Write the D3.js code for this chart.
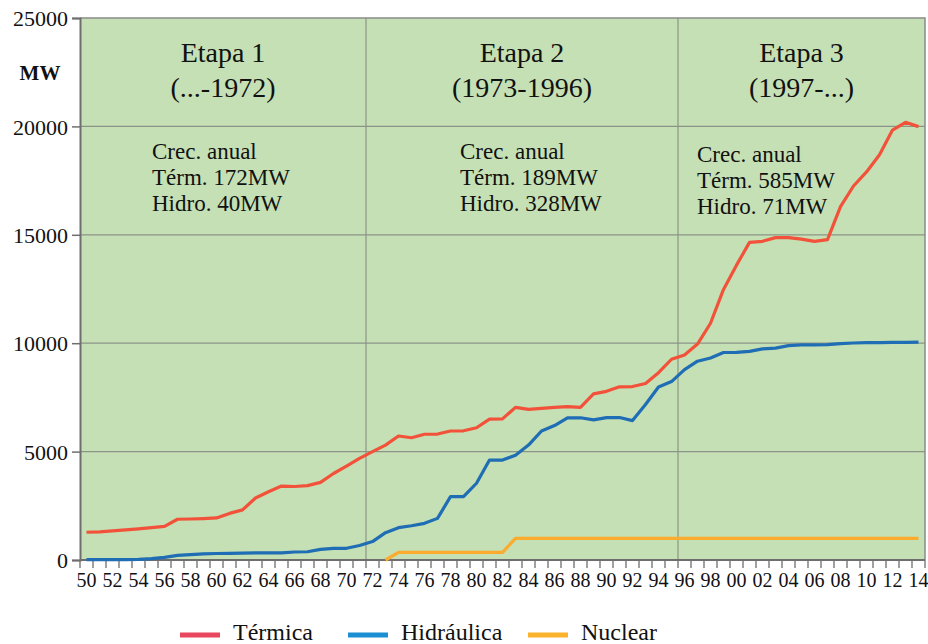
<!DOCTYPE html>
<html><head><meta charset="utf-8">
<script src="https://cdn.jsdelivr.net/npm/d3@7"></script>
</head>
<body><svg id="c" width="928" height="644"></svg>
<script>
document.body.style.margin = "0";
document.getElementById("c").style.display = "block";
const years = d3.range(1950, 2015);
const termica = [1280,1300,1340,1390,1440,1490,1550,1880,1890,1910,1940,2150,2310,2860,3150,3410,3390,3430,3580,3990,4330,4690,5000,5300,5720,5640,5800,5810,5950,5960,6100,6500,6510,7040,6950,6990,7040,7070,7040,7660,7780,7990,8000,8140,8640,9260,9460,9960,10920,12480,13600,14650,14700,14870,14870,14800,14700,14780,16300,17250,17900,18690,19830,20190,19990];
const hidraulica = [20,20,20,20,30,60,120,210,250,280,300,310,320,330,330,330,370,380,490,540,540,670,850,1260,1490,1580,1690,1920,2920,2920,3540,4610,4610,4830,5300,5950,6200,6560,6560,6460,6570,6570,6430,7170,7980,8230,8780,9170,9320,9570,9580,9620,9740,9770,9890,9920,9920,9930,9980,10010,10030,10030,10040,10040,10050];
const nuclear = [null,null,null,null,null,null,null,null,null,null,null,null,null,null,null,null,null,null,null,null,null,null,null,0,350,350,350,350,350,350,350,350,350,1000,1000,1000,1000,1000,1000,1000,1000,1000,1000,1000,1000,1000,1000,1000,1000,1000,1000,1000,1000,1000,1000,1000,1000,1000,1000,1000,1000,1000,1000,1000,1000];
const yTicks = [0,5000,10000,15000,20000,25000];
const stageBounds = [1971.5, 1995.5];
const stageTitles = [["Etapa 1","(...-1972)"],["Etapa 2","(1973-1996)"],["Etapa 3","(1997-...)"]];
const stageNotes = [["Crec. anual","Térm. 172MW","Hidro. 40MW"],["Crec. anual","Térm. 189MW","Hidro. 328MW"],["Crec. anual","Térm. 585MW","Hidro. 71MW"]];
const seriesNames = ["Térmica","Hidráulica","Nuclear"];

const FONT = '"Liberation Serif"';
const svg = d3.select("#c");
const L=80, R=925, T=18, B=560;
const x = d3.scaleLinear().domain([1949.5, 2014.5]).range([L, R]);
const y = d3.scaleLinear().domain([0, 25000]).range([B, T]);

svg.append("rect").attr("x",L).attr("y",T).attr("width",R-L).attr("height",B-T).attr("fill","#c5e0b4");

svg.append("g").selectAll("line").data(yTicks.filter(d=>d>0&&d<25000)).join("line")
  .attr("x1",L).attr("x2",R).attr("y1",d=>y(d)).attr("y2",d=>y(d))
  .attr("stroke","#8c9487").attr("stroke-width",1.2);
svg.append("g").selectAll("line").data(stageBounds).join("line")
  .attr("x1",d=>x(d)).attr("x2",d=>x(d)).attr("y1",T).attr("y2",B)
  .attr("stroke","#8c9487").attr("stroke-width",1.2);
svg.append("path").attr("d",`M${L},${T}H${R}V${B}`).attr("fill","none").attr("stroke","#8a8a8a").attr("stroke-width",1.5);

const yAxis = d3.axisLeft(y).tickValues(yTicks).tickSize(8).tickPadding(4).tickFormat(d3.format("d"));
const gy = svg.append("g").attr("transform",`translate(${L},0)`).call(yAxis);
gy.attr("font-family", null).style("font-family", FONT);
gy.select(".domain").attr("stroke","#6e6e6e").attr("stroke-width",2);
gy.selectAll(".tick line").attr("stroke","#6e6e6e").attr("stroke-width",1.5);
gy.selectAll("text").attr("font-size",22).attr("fill","#111").attr("dy","0.35em").style("font-family", FONT);

const bounds = d3.range(1949.5, 2015.5, 1);
const gx = svg.append("g");
gx.append("line").attr("x1",L).attr("x2",R).attr("y1",B).attr("y2",B).attr("stroke","#6e6e6e").attr("stroke-width",2);
gx.selectAll(".tk").data(bounds).join("line").attr("class","tk")
  .attr("x1",d=>x(d)).attr("x2",d=>x(d)).attr("y1",B).attr("y2",B+8)
  .attr("stroke","#6e6e6e").attr("stroke-width",1.3);
gx.selectAll("text").data(years.filter((d,i)=>i%2===0)).join("text")
  .attr("x",d=>x(d)).attr("y",B+27).attr("text-anchor","middle")
  .attr("font-size",20).attr("fill","#111").style("font-family", FONT)
  .text(d=>String(d%100).padStart(2,"0"));

svg.append("text").attr("x",40).attr("y",80).attr("text-anchor","middle").style("font-family", FONT)
  .attr("font-size",21).attr("font-weight","bold").attr("fill","#111").text("MW");

const stageEdges = [1949.5, ...stageBounds, 2014.5];
stageTitles.forEach((t,i)=>{
  const cx = (x(stageEdges[i])+x(stageEdges[i+1]))/2;
  t.forEach((s,j)=>{
    svg.append("text").attr("x",cx).attr("y",62+j*35).attr("text-anchor","middle")
      .attr("font-size",28).attr("fill","#111").style("font-family", FONT).text(s);
  });
});
const noteX = [152, 460, 697];
const noteY = [159, 159, 162];
stageNotes.forEach((n,i)=>{
  n.forEach((s,j)=>{
    svg.append("text").attr("x",noteX[i]).attr("y",noteY[i]+j*26)
      .attr("font-size",23).attr("fill","#111").style("font-family", FONT).text(s);
  });
});

const lineColors = ["#f2523a","#1f6db4","#fbab2d"];
const series = [termica, hidraulica, nuclear];
const line = d3.line().defined(d=>d[1]!==null).x(d=>x(d[0])).y(d=>y(d[1]));
[2,1,0].forEach(i=>{
  svg.append("path").datum(years.map((yr,k)=>[yr,series[i][k]]))
    .attr("d",line).attr("fill","none").attr("stroke",lineColors[i])
    .attr("stroke-width",3.2).attr("stroke-linejoin","round");
});

const legColors = ["#e8475e","#1b8fd2","#fbb22d"];
const legX = [180, 348, 528];
seriesNames.forEach((n,i)=>{
  svg.append("line").attr("x1",legX[i]).attr("x2",legX[i]+40).attr("y1",635).attr("y2",635)
    .attr("stroke",legColors[i]).attr("stroke-width",5);
  svg.append("text").attr("x",legX[i]+53).attr("y",640)
    .attr("font-size",24).attr("fill","#111").style("font-family", FONT).text(n);
});
</script></body></html>
